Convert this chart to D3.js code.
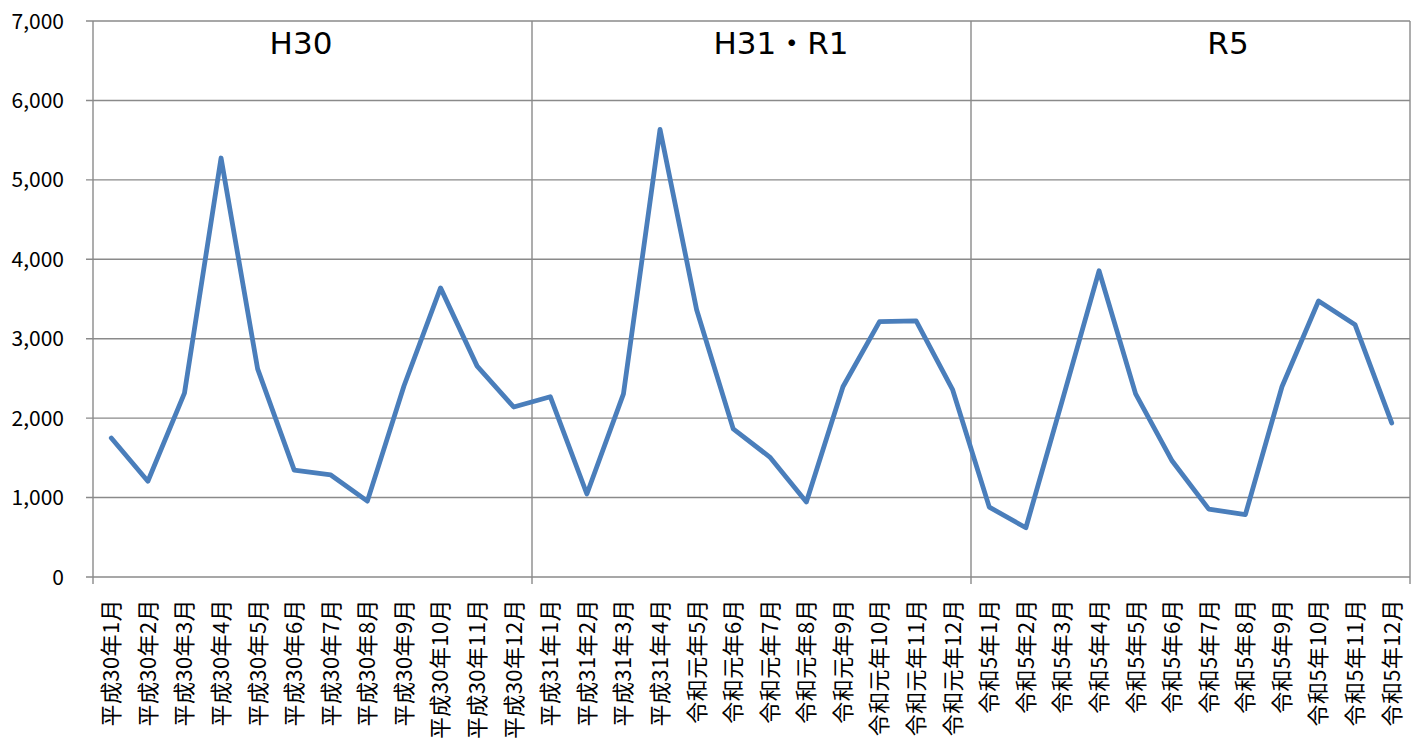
<!DOCTYPE html>
<html>
<head>
<meta charset="utf-8">
<script src="https://cdn.jsdelivr.net/npm/d3@7"></script>
<style>
  html, body { margin: 0; padding: 0; background: #fff; }
  svg { display: block; }
  text { font-family: "Noto Sans CJK JP", "Noto Sans", sans-serif; fill: #000; }
</style>
</head>
<body>
<svg id="chart" width="1418" height="741"></svg>
<script>
// ---- data ----
const categories = [
  "平成30年1月","平成30年2月","平成30年3月","平成30年4月","平成30年5月","平成30年6月",
  "平成30年7月","平成30年8月","平成30年9月","平成30年10月","平成30年11月","平成30年12月",
  "平成31年1月","平成31年2月","平成31年3月","平成31年4月","令和元年5月","令和元年6月",
  "令和元年7月","令和元年8月","令和元年9月","令和元年10月","令和元年11月","令和元年12月",
  "令和5年1月","令和5年2月","令和5年3月","令和5年4月","令和5年5月","令和5年6月",
  "令和5年7月","令和5年8月","令和5年9月","令和5年10月","令和5年11月","令和5年12月"
];
const values = [
  1750, 1205, 2315, 5275, 2620, 1345, 1285, 955, 2405, 3640, 2655, 2140,
  2270, 1045, 2305, 5635, 3365, 1865, 1510, 945, 2395, 3215, 3225, 2355,
  880, 620, 2230, 3855, 2305, 1460, 855, 785, 2395, 3475, 3175, 1940
];
const yTicks = [0, 1000, 2000, 3000, 4000, 5000, 6000, 7000];
const periodLabels = ["H30", "H31・R1", "R5"];
const periodBoundaries = [0, 12, 24, 36]; // category index boundaries
const periodLabelCenters = [301, 781, 1228];

// ---- layout ----
const L = 93, R = 1410, T = 21, B = 577;
const svg = d3.select("#chart");
const gridColor = "#8a8a8a";

const x = d3.scaleBand().domain(categories).range([L, R]).paddingInner(0).paddingOuter(0);
const y = d3.scaleLinear().domain([0, 7000]).range([B, T]);
const cx = c => x(c) + x.bandwidth() / 2;
const boundaryX = i => L + i * x.step();

// horizontal gridlines + y tick marks
svg.append("g").selectAll("line").data(yTicks).join("line")
  .attr("x1", L - 7).attr("x2", R)
  .attr("y1", d => y(d)).attr("y2", d => y(d))
  .attr("stroke", gridColor).attr("stroke-width", 1.4);

// vertical lines at period boundaries (incl. axis and right border)
svg.append("g").selectAll("line").data(periodBoundaries).join("line")
  .attr("x1", d => boundaryX(d)).attr("x2", d => boundaryX(d))
  .attr("y1", T).attr("y2", B + 7)
  .attr("stroke", gridColor).attr("stroke-width", 1.4);

// y labels
svg.append("g").selectAll("text").data(yTicks).join("text")
  .attr("x", 64).attr("y", d => y(d))
  .attr("dy", "0.36em")
  .attr("text-anchor", "end")
  .attr("font-size", 21)
  .text(d => d3.format(",")(d));

// x labels (rotated)
svg.append("g").selectAll("text").data(categories).join("text")
  .attr("transform", d => `translate(${cx(d)},599) rotate(-90)`)
  .attr("dy", "0.36em")
  .attr("text-anchor", "end")
  .attr("font-size", 22)
  .attr("letter-spacing", "0.4px")
  .text(d => d);

// line
const line = d3.line().x((d, i) => cx(categories[i])).y(d => y(d));
svg.append("path").datum(values)
  .attr("d", line)
  .attr("fill", "none")
  .attr("stroke", "#4a7ebb")
  .attr("stroke-width", 4.8)
  .attr("stroke-linejoin", "round")
  .attr("stroke-linecap", "round");

// period labels
svg.append("g").selectAll("text").data(periodLabels).join("text")
  .attr("x", (d, i) => periodLabelCenters[i]).attr("y", 54)
  .attr("text-anchor", "middle")
  .attr("font-size", 31)
  .style("font-family", "'DejaVu Sans', 'Noto Sans CJK JP', sans-serif")
  .text(d => d);
</script>
</body>
</html>
